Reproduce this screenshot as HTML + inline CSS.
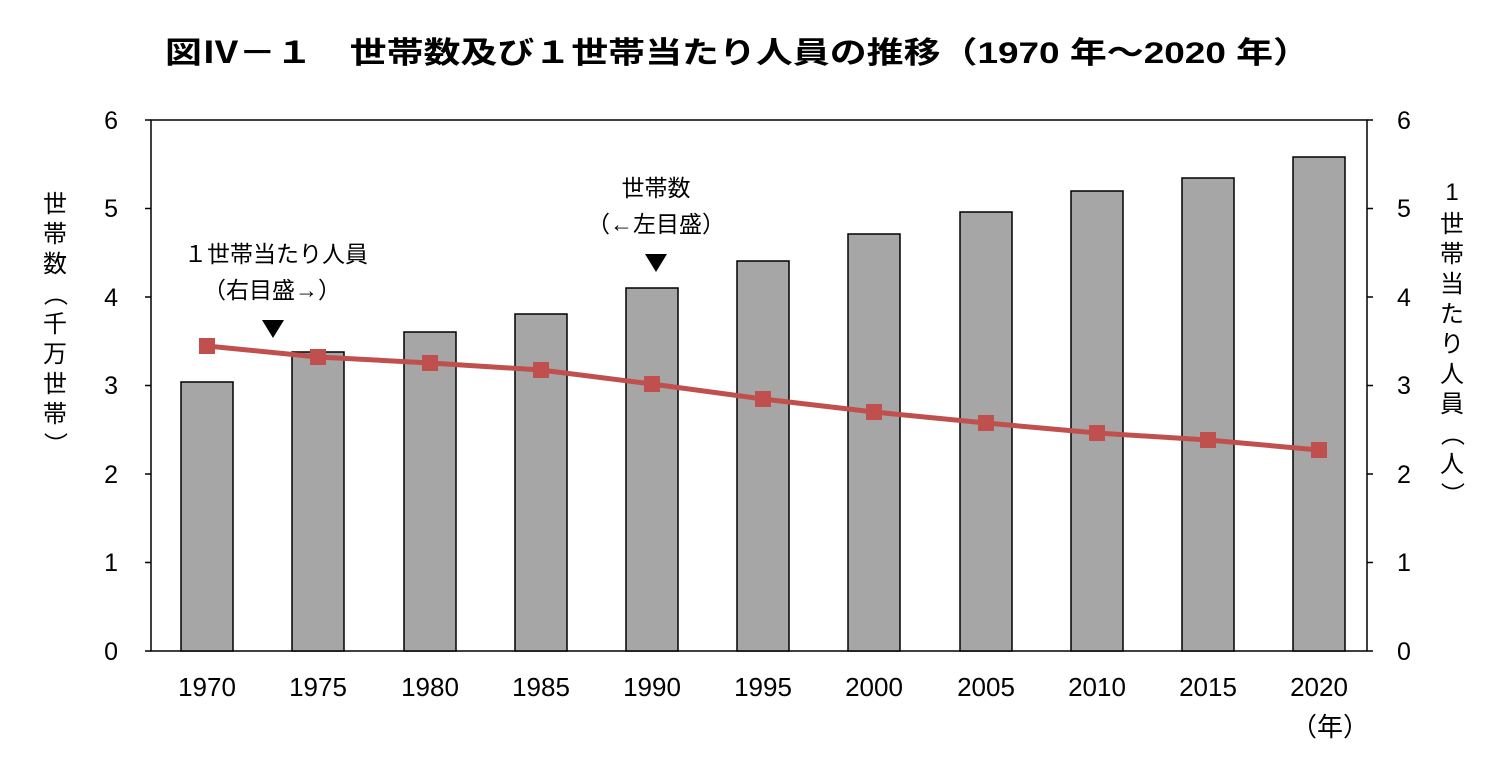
<!DOCTYPE html>
<html><head><meta charset="utf-8"><style>
body{margin:0;background:#fff;}
svg text{font-family:"Liberation Sans","Noto Sans CJK JP",sans-serif;fill:#000;}
</style></head><body>
<svg width="1507" height="756" xmlns="http://www.w3.org/2000/svg">
<text x="165" y="63" font-size="30" font-weight="bold" textLength="1145" lengthAdjust="spacingAndGlyphs">図Ⅳ－１　世帯数及び１世帯当たり人員の推移（1970 年～2020 年）</text>
<rect x="151" y="120" width="1216" height="531" fill="none" stroke="#000" stroke-width="1.5"/>
<g fill="#a6a6a6" stroke="#000" stroke-width="1.5">
<rect x="181" y="382" width="52" height="269"/>
<rect x="292" y="352" width="52" height="299"/>
<rect x="404" y="332" width="52" height="319"/>
<rect x="515" y="314" width="52" height="337"/>
<rect x="626" y="288" width="52" height="363"/>
<rect x="737" y="261" width="52" height="390"/>
<rect x="848" y="234" width="52" height="417"/>
<rect x="960" y="212" width="52" height="439"/>
<rect x="1071" y="191" width="52" height="460"/>
<rect x="1182" y="178" width="52" height="473"/>
<rect x="1293" y="157" width="52" height="494"/>
</g>
<polyline fill="none" stroke="#c0504d" stroke-width="5" points="207,346 318,357 430,363 541,370 652,384 763,399 874,412 986,423 1097,433 1208,440 1319,450"/>
<g fill="#c0504d">
<rect x="199" y="338" width="16" height="16"/><rect x="310" y="349" width="16" height="16"/>
<rect x="422" y="355" width="16" height="16"/><rect x="533" y="362" width="16" height="16"/>
<rect x="644" y="376" width="16" height="16"/><rect x="755" y="391" width="16" height="16"/>
<rect x="866" y="404" width="16" height="16"/><rect x="978" y="415" width="16" height="16"/>
<rect x="1089" y="425" width="16" height="16"/><rect x="1200" y="432" width="16" height="16"/>
<rect x="1311" y="442" width="16" height="16"/>
</g>
<g stroke="#000" stroke-width="1.5">
<line x1="145" y1="120" x2="151" y2="120"/><line x1="145" y1="208.5" x2="151" y2="208.5"/><line x1="145" y1="297" x2="151" y2="297"/><line x1="145" y1="385.5" x2="151" y2="385.5"/><line x1="145" y1="474" x2="151" y2="474"/><line x1="145" y1="562.5" x2="151" y2="562.5"/><line x1="145" y1="651" x2="151" y2="651"/>
<line x1="1367" y1="120" x2="1373" y2="120"/><line x1="1367" y1="208.5" x2="1373" y2="208.5"/><line x1="1367" y1="297" x2="1373" y2="297"/><line x1="1367" y1="385.5" x2="1373" y2="385.5"/><line x1="1367" y1="474" x2="1373" y2="474"/><line x1="1367" y1="562.5" x2="1373" y2="562.5"/><line x1="1367" y1="651" x2="1373" y2="651"/>
</g>
<g font-size="25" text-anchor="end">
<text x="118" y="129">6</text><text x="118" y="217">5</text><text x="118" y="306">4</text><text x="118" y="394">3</text><text x="118" y="483">2</text><text x="118" y="571">1</text><text x="118" y="660">0</text>
</g>
<g font-size="25" text-anchor="start">
<text x="1397" y="129">6</text><text x="1397" y="217">5</text><text x="1397" y="306">4</text><text x="1397" y="394">3</text><text x="1397" y="483">2</text><text x="1397" y="571">1</text><text x="1397" y="660">0</text>
</g>
<g font-size="26" text-anchor="middle">
<text x="207" y="696">1970</text><text x="318" y="696">1975</text><text x="430" y="696">1980</text><text x="541" y="696">1985</text><text x="652" y="696">1990</text><text x="763" y="696">1995</text><text x="874" y="696">2000</text><text x="986" y="696">2005</text><text x="1097" y="696">2010</text><text x="1208" y="696">2015</text><text x="1319" y="696">2020</text>
<text x="1330" y="736">（年）</text>
</g>
<g font-size="24" text-anchor="middle">
<text x="55" y="212">世</text><text x="55" y="242">帯</text><text x="55" y="272">数</text>
<text x="55" y="302" transform="rotate(90 55 294)">（</text>
<text x="55" y="332">千</text><text x="55" y="362">万</text><text x="55" y="392">世</text><text x="55" y="422">帯</text>
<text x="55" y="452" transform="rotate(90 55 444)">）</text>
<text x="1452" y="200">1</text>
<text x="1452" y="232">世</text><text x="1452" y="262">帯</text><text x="1452" y="292">当</text><text x="1452" y="322">た</text><text x="1452" y="352">り</text><text x="1452" y="382">人</text><text x="1452" y="412">員</text>
<text x="1452" y="442" transform="rotate(90 1452 434)">（</text>
<text x="1452" y="472">人</text>
<text x="1452" y="502" transform="rotate(90 1452 494)">）</text>
</g>
<g font-size="23" text-anchor="middle">
<text x="276" y="262">１世帯当たり人員</text>
<text x="272" y="298">（右目盛→）</text>
<text x="656" y="196">世帯数</text>
<text x="656" y="232">（←左目盛）</text>
</g>
<polygon points="262,320 284,320 273,338" fill="#000"/>
<polygon points="645,254 667,254 656,272" fill="#000"/>
</svg>
</body></html>
